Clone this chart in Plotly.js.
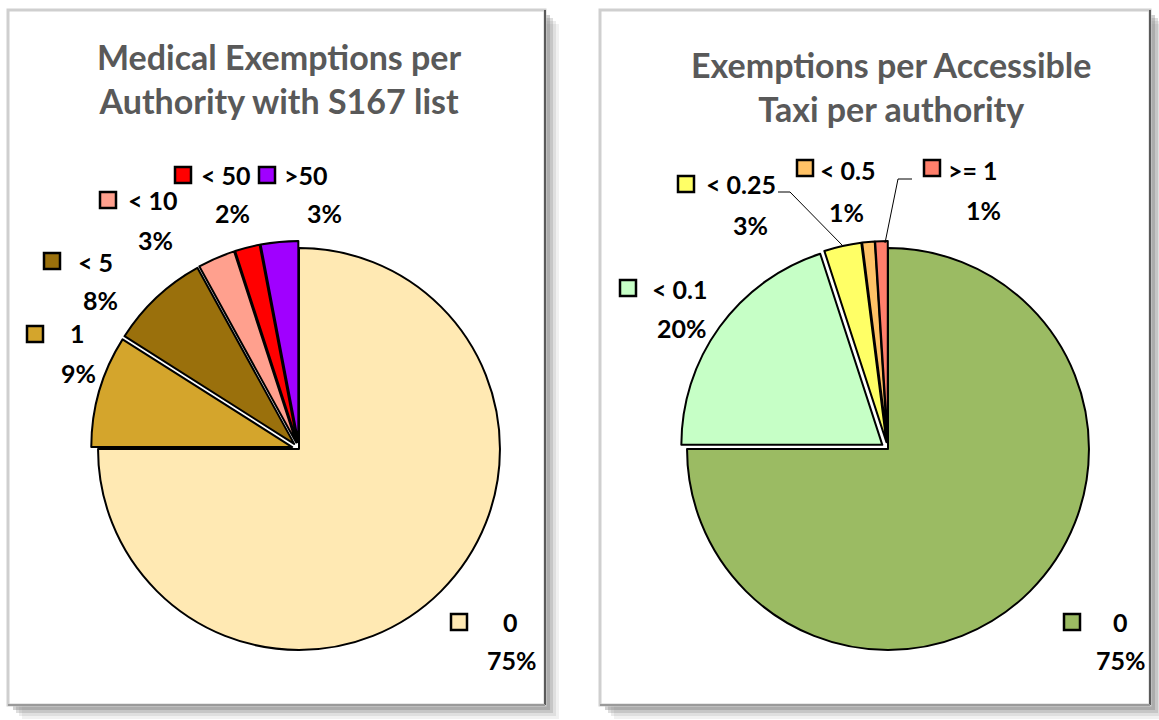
<!DOCTYPE html>
<html>
<head>
<meta charset="utf-8">
<script src="https://cdn.plot.ly/plotly-3.0.1.min.js"></script>
<style>
html,body{margin:0;padding:0;background:#ffffff;}
#chart{width:1159px;height:720px;}
</style>
</head>
<body>
<div id="chart"></div>
<script>
// ---- Data ----
const leftTitle = "Medical Exemptions per<br>Authority with S167 list";
const leftLabels = ["0", "1", "< 5", "< 10", "< 50", ">50"];
const leftValues = [75, 9, 8, 3, 2, 3];
const leftColors = ["#FFE9B3", "#D4A52C", "#9A700C", "#FFA08E", "#FF0000", "#A000FF"];

const rightTitle = "Exemptions per Accessible<br>Taxi per authority";
const rightLabels = ["0", "< 0.1", "< 0.25", "< 0.5", ">= 1"];
const rightValues = [75, 20, 3, 1, 1];
const rightColors = ["#9BBB63", "#C6FFC6", "#FFFF66", "#FFC266", "#FF7F6B"];

// ---- Layout helpers (pixel -> paper) ----
const W = 1159, H = 720;
const X = p => p / W;
const Y = p => 1 - p / H;

// label placement: [keyCx, keyCy, nameLeftX, nameY, pctCx, pctY]
const leftPos = [
  [459, 622, 501, 622, 512, 660],
  [35, 334, 68, 333, 78, 373],
  [52, 261, 76, 262, 100, 300],
  [108, 200, 126, 200, 155, 240],
  [183, 175, 199, 175, 232, 213],
  [267, 175, 282, 175, 325, 213]
];
const rightPos = [
  [1072, 622, 1111, 622, 1121, 660],
  [628, 288, 650, 289, 682, 328],
  [686, 184, 704, 184, 750, 225],
  [805, 168, 818, 170, 846, 212],
  [932, 168, 946, 170, 984, 210]
];

function pctText(values) {
  const tot = values.reduce((a, b) => a + b, 0);
  return values.map(v => Math.round(v / tot * 100) + "%");
}

const shapes = [];
const annotations = [];

function panel(x0, y0, x1, y1) {
  // drop shadow
  const sh = [[14, 0.10], [11, 0.15], [8, 0.25], [5, 0.35]];
  sh.forEach(([o, op]) => {
    shapes.push({type: "rect", xref: "paper", yref: "paper", layer: "below",
      x0: X(x0 + o), x1: X(x1 + o), y0: Y(y1 + o), y1: Y(y0 + o),
      fillcolor: "#7a7a7a", opacity: op, line: {width: 0}});
  });
  shapes.push({type: "rect", xref: "paper", yref: "paper", layer: "below",
    x0: X(x0), x1: X(x1), y0: Y(y1), y1: Y(y0),
    fillcolor: "#ffffff", line: {color: "#cfcfcf", width: 3}});
  shapes.push({type: "line", xref: "paper", yref: "paper", layer: "below",
    x0: X(x1), x1: X(x1), y0: Y(y1), y1: Y(y0), line: {color: "#5a5a5a", width: 2}});
  shapes.push({type: "line", xref: "paper", yref: "paper", layer: "below",
    x0: X(x0), x1: X(x1), y0: Y(y1), y1: Y(y1), line: {color: "#9a9a9a", width: 2}});
}
panel(8, 10, 545, 705);
panel(600, 10, 1150, 705);

function title(text, cx, cy) {
  annotations.push({text: text, xref: "paper", yref: "paper", x: X(cx), y: Y(cy),
    xanchor: "center", yanchor: "middle", showarrow: false, align: "center",
    font: {family: "Lato, 'Open Sans', sans-serif", size: 34, color: "#595959", weight: 700}});
}
title(leftTitle, 279, 78);
title(rightTitle, 891, 86);

const labFont = {family: "Lato, 'Open Sans', sans-serif", size: 25, color: "#000000", weight: 700};
function labels(names, values, colors, pos) {
  const pcts = pctText(values);
  names.forEach((n, i) => {
    const p = pos[i];
    shapes.push({type: "rect", xref: "paper", yref: "paper",
      x0: X(p[0] - 8), x1: X(p[0] + 8), y0: Y(p[1] + 8), y1: Y(p[1] - 8),
      fillcolor: colors[i], line: {color: "#000000", width: 2.5}});
    annotations.push({text: n, xref: "paper", yref: "paper", x: X(p[2]), y: Y(p[3]),
      xanchor: "left", yanchor: "middle", showarrow: false, font: labFont});
    annotations.push({text: pcts[i], xref: "paper", yref: "paper", x: X(p[4]), y: Y(p[5]),
      xanchor: "center", yanchor: "middle", showarrow: false, font: labFont});
  });
}
labels(leftLabels, leftValues, leftColors, leftPos);
labels(rightLabels, rightValues, rightColors, rightPos);

// leader lines (right chart)
function leader(pts) {
  let path = "M" + pts.map(q => X(q[0]) + "," + Y(q[1])).join(" L");
  shapes.push({type: "path", xref: "paper", yref: "paper", path: path,
    line: {color: "#000000", width: 1}});
}
leader([[778, 192], [790, 192], [843, 246]]);
leader([[912, 179], [898, 179], [885, 243]]);

const pieCommon = {
  type: "pie", sort: false, direction: "clockwise", rotation: 0,
  textinfo: "none", hoverinfo: "label+percent", showlegend: false
};

const traces = [
  Object.assign({}, pieCommon, {
    labels: leftLabels, values: leftValues,
    marker: {colors: leftColors, line: {color: "#000000", width: 2}},
    pull: leftValues.map((v, i) => i === 0 ? 0 : 0.035),
    domain: {x: [X(91), X(507)], y: [Y(657), Y(241)]}
  }),
  Object.assign({}, pieCommon, {
    labels: rightLabels, values: rightValues,
    marker: {colors: rightColors, line: {color: "#000000", width: 2}},
    pull: rightValues.map((v, i) => i === 0 ? 0 : 0.035),
    domain: {x: [X(680), X(1096)], y: [Y(657), Y(241)]}
  })
];

const layout = {
  width: W, height: H,
  margin: {l: 0, r: 0, t: 0, b: 0},
  paper_bgcolor: "#ffffff",
  plot_bgcolor: "#ffffff",
  showlegend: false,
  shapes: shapes,
  annotations: annotations
};

Plotly.newPlot("chart", traces, layout, {displayModeBar: false, staticPlot: true});
</script>
</body>
</html>
